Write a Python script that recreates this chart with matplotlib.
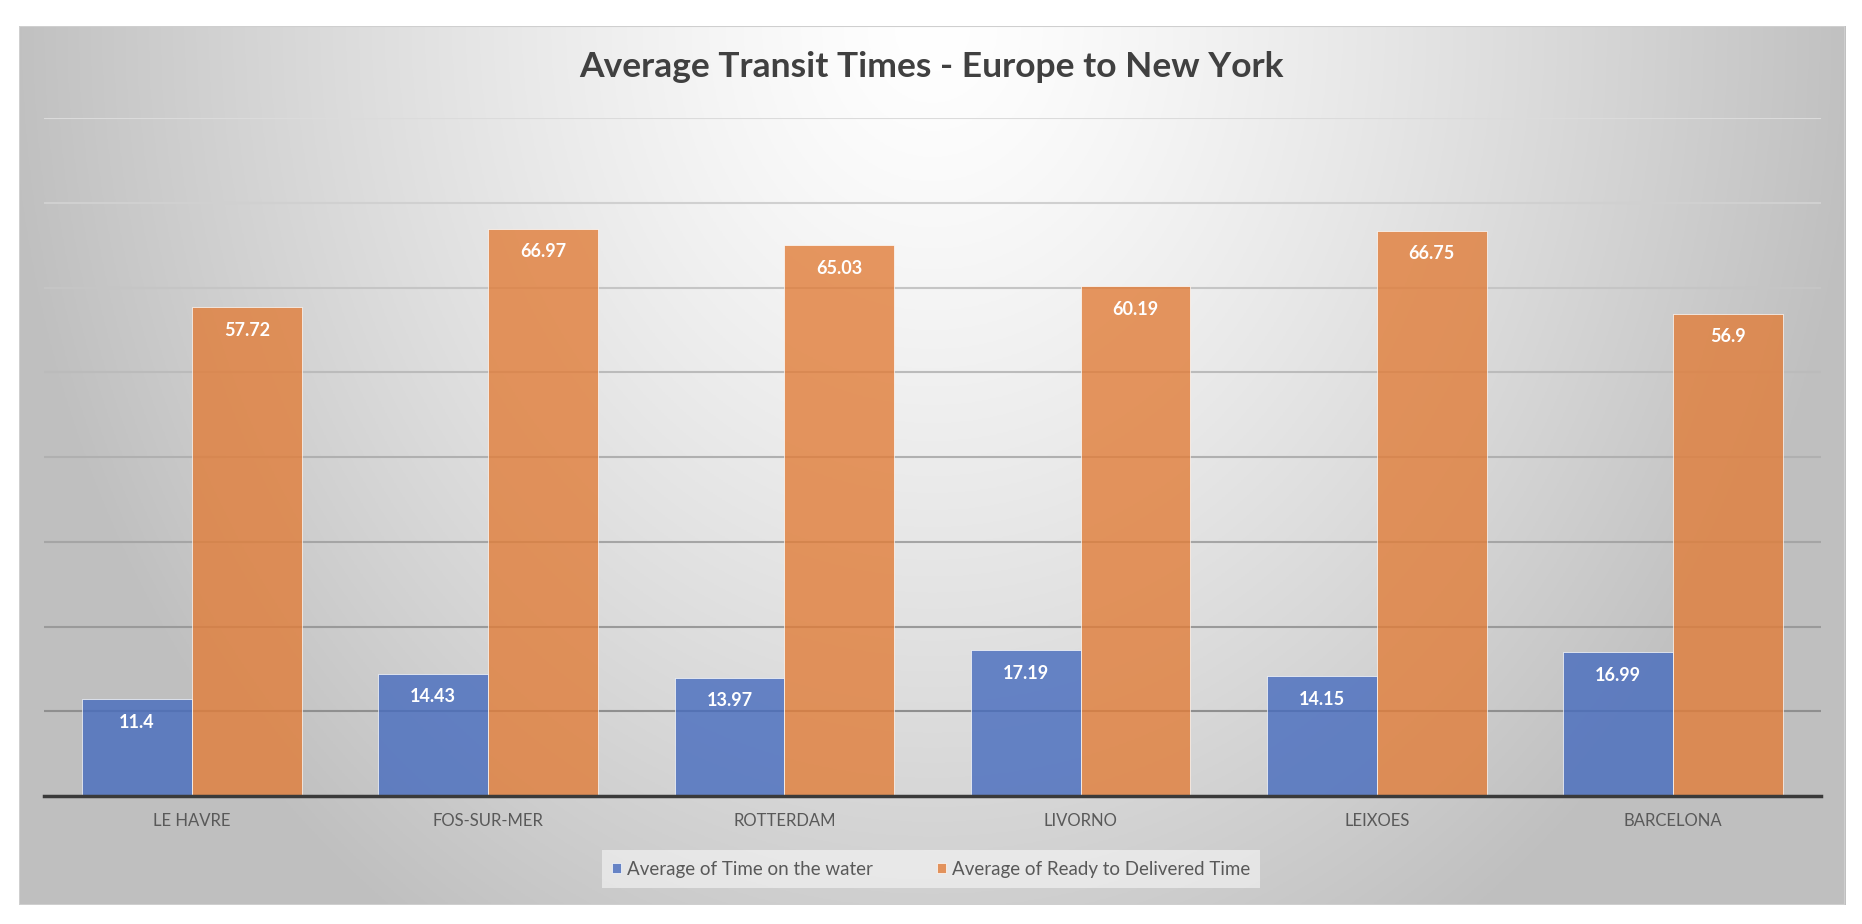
import numpy as np
import matplotlib.pyplot as plt
from matplotlib.patches import Rectangle

ports = ['LE HAVRE', 'FOS-SUR-MER', 'ROTTERDAM', 'LIVORNO', 'LEIXOES', 'BARCELONA']
water = [11.4, 14.43, 13.97, 17.19, 14.15, 16.99]
ready = [57.72, 66.97, 65.03, 60.19, 66.75, 56.9]
series = ['Average of Time on the water', 'Average of Ready to Delivered Time']
grid_vals = [10, 20, 30, 40, 50, 60, 70, 80]

plt.rcParams['font.family'] = ['Lato', 'DejaVu Sans']

fig = plt.figure(figsize=(18.62, 9.24), dpi=100, facecolor='white')

# gradient chart background
bg = fig.add_axes([0.0102, 0.0206, 0.9808, 0.9514])
gx, gy = np.meshgrid(np.linspace(-1, 1, 600), np.linspace(0, 1, 300))
d = np.sqrt((gx / 1.02) ** 2 + ((1 - gy) / 1.25) ** 2)
v = 1 - 0.25 * np.clip(d, 0, 1) ** 1.3
bg.imshow(np.dstack([v, v, v]), aspect='auto', origin='lower', extent=[0, 1, 0, 1])
bg.set_xlim(0, 1); bg.set_ylim(0, 1)
bg.axis('off')
bg.add_patch(Rectangle((0, 0), 1, 1, fill=False, ec='#cfcfcf', lw=1.5, transform=bg.transAxes))

ax = fig.add_axes([0.0236, 0.1385, 0.9544, 0.7335])
ax.patch.set_alpha(0)
x = np.arange(len(ports))
w = 0.371

for g in grid_vals:
    t = (g - 10) / 70
    c = 0.56 + 0.3 * t
    ax.axhline(g, color=(c, c, c), lw=1.5, zorder=0)

b1 = ax.bar(x - w / 2, water, w, color='#466BBE', alpha=0.8, ec='white', lw=0.6, label=series[0], zorder=2)
b2 = ax.bar(x + w / 2, ready, w, color='#E17D39', alpha=0.8, ec='white', lw=0.6, label=series[1], zorder=2)

for bars, vals in ((b1, water), (b2, ready)):
    for r, val in zip(bars, vals):
        ax.annotate(f'{val:g}', (r.get_x() + r.get_width() / 2, val), xytext=(0, -23),
                    textcoords='offset pixels',
                    ha='center', va='center', color='white', fontsize=13, fontweight='bold', zorder=3)

ax.set_xlim(-0.5, len(ports) - 0.5)
ax.set_ylim(0, 80)
ax.set_yticks([])
ax.set_xticks(x)
ax.set_xticklabels(ports, fontsize=12, color='#595959')
ax.tick_params(axis='x', length=0, pad=12)
for s in ['top', 'right', 'left']:
    ax.spines[s].set_visible(False)
ax.spines['bottom'].set_color('#3a3a3a')
ax.spines['bottom'].set_linewidth(2.5)

fig.text(0.5, 0.927, 'Average Transit Times - Europe to New York', ha='center', va='center',
         fontsize=25.5, fontweight='bold', color='#404040')

leg = fig.legend(loc='center', bbox_to_anchor=(0.5, 0.0595), ncol=2, frameon=True, fontsize=13.5,
                 handlelength=0.5, handleheight=0.5, handletextpad=0.3, columnspacing=3.4,
                 borderpad=0.55)
leg.get_frame().set_facecolor('white')
leg.get_frame().set_alpha(0.5)
leg.get_frame().set_edgecolor('none')
leg.get_frame().set_boxstyle('square', pad=0)
for t in leg.get_texts():
    t.set_color('#595959')

fig.savefig('out.png', dpi=100)
